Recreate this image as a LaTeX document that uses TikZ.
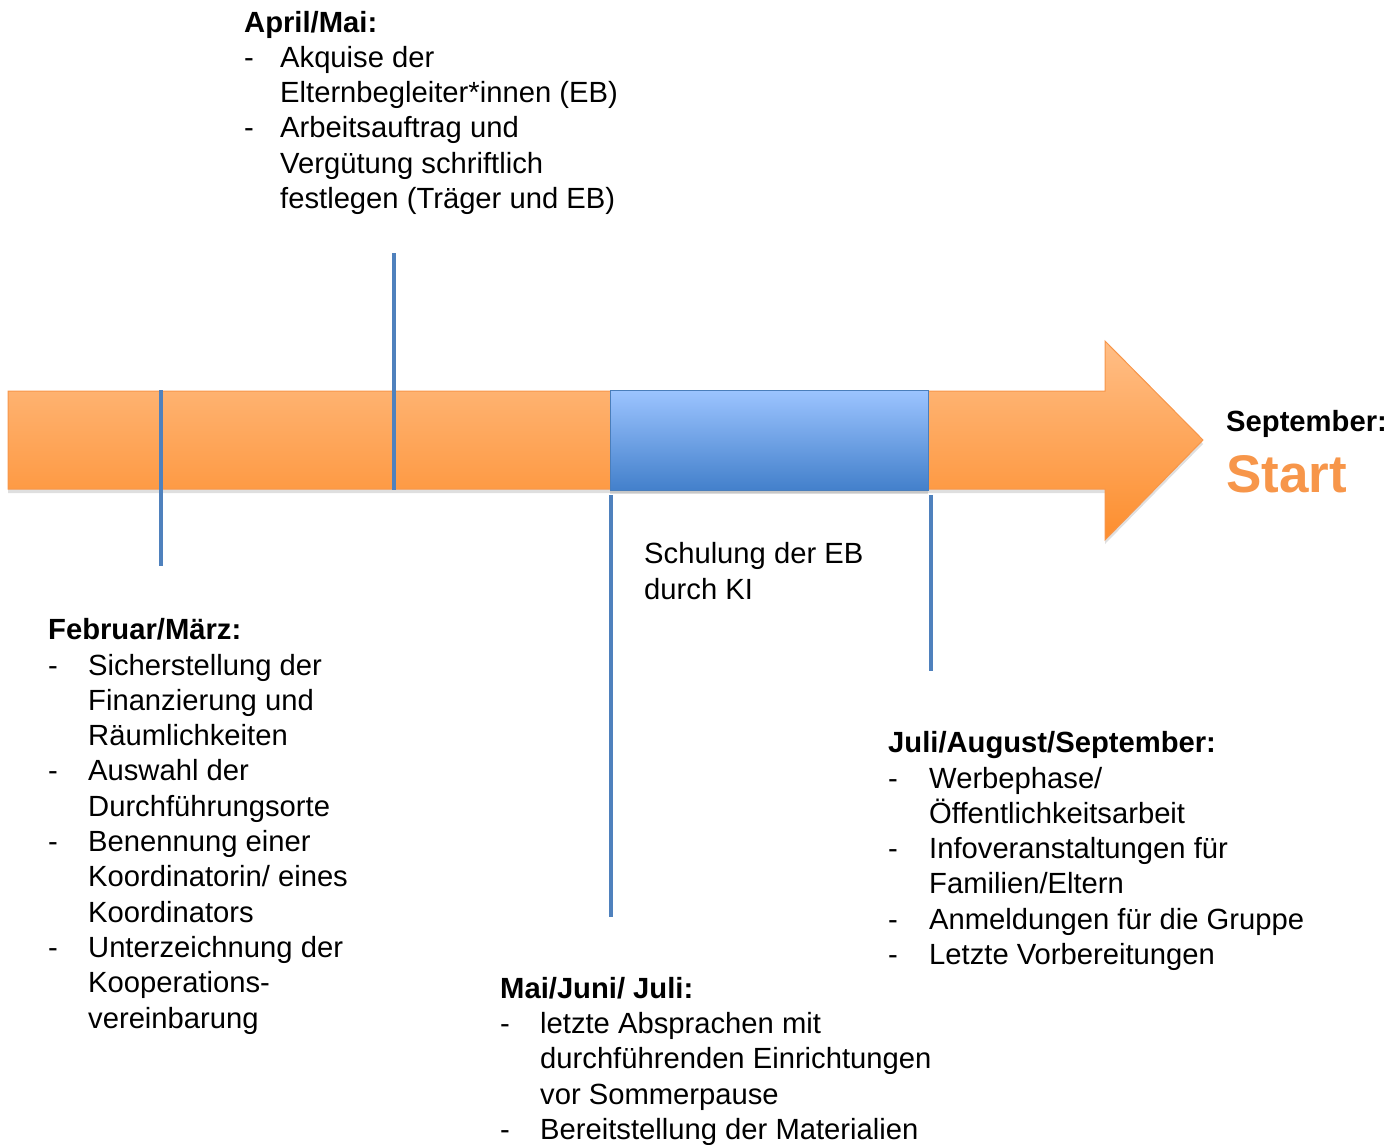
\documentclass[tikz,border=0pt]{standalone}
\usepackage{fontspec}
\setmainfont{Liberation Sans}
\usetikzlibrary{positioning,calc,shadows}
\definecolor{bartop}{HTML}{FFBE86}
\definecolor{barbottom}{HTML}{FD8E2E}
\definecolor{barline}{HTML}{F7964A}
\definecolor{schultop}{HTML}{9CC4FF}
\definecolor{schulbottom}{HTML}{4380CB}
\definecolor{schulline}{HTML}{4A7EBB}
\definecolor{tickblue}{HTML}{4F81BD}
\definecolor{startorange}{HTML}{F7964A}
\newcommand{\strich}[1][40pt]{\makebox[#1][l]{-}}
\newcommand{\einzug}[1][40pt]{\hspace*{#1}}
\tikzset{
    % timeline arrow
    zeitpfeil/.style={
           draw=barline, line width=1pt,
           top color=bartop, bottom color=barbottom,
           drop shadow={shadow xshift=0pt, shadow yshift=-4pt, opacity=0.25}},
    % training block
    schulung/.style={
           draw=schulline, line width=1pt,
           top color=schultop, bottom color=schulbottom,
           drop shadow={shadow xshift=0pt, shadow yshift=-4pt, opacity=0.25}},
    % marks on the time line
    marke/.style={
           draw=tickblue, line width=4pt},
    % text blocks (anchored at the baseline of the last line)
    phase/.style={
           anchor=base west, align=left, inner sep=0pt,
           font=\fontsize{29.2}{35.3}\selectfont}
}
\begin{document}
\begin{tikzpicture}[x=1pt, y=-1pt]
	\useasboundingbox (0,0) rectangle (1400,1144);

	% arrow and training block
	\path[zeitpfeil] (8,391) -- (1105,391) -- (1105,341) -- (1203,440)
	                 -- (1105,540) -- (1105,489) -- (8,489) -- cycle;
	\path[schulung] (610,390) rectangle (928,490);

	% marks
	\coordinate (febtop) at (161,390);
	\coordinate (febbot) at (161,566);
	\coordinate (aprtop) at (394,253);
	\coordinate (aprbot) at (394,490);
	\coordinate (maitop) at (611,495);
	\coordinate (maibot) at (611,917);
	\coordinate (julitop) at (931,495);
	\coordinate (julibot) at (931,671);
	\draw[marke] (febtop) -- (febbot);
	\draw[marke] (aprtop) -- (aprbot);
	\draw[marke] (maitop) -- (maibot);
	\draw[marke] (julitop) -- (julibot);

	% April/Mai
	\node[phase] (aprtext) at (244,208.5) {\textbf{April/Mai:}\\
	    \strich[36pt]Akquise der\\
	    \einzug[36pt]Elternbegleiter*innen (EB)\\
	    \strich[36pt]Arbeitsauftrag und\\
	    \einzug[36pt]Vergütung schriftlich\\
	    \einzug[36pt]festlegen (Träger und EB)};

	% Februar/Maerz
	\node[phase] (febtext) at (48,1028) {\textbf{Februar/März:}\\
	    \strich Sicherstellung der\\
	    \einzug Finanzierung und\\
	    \einzug Räumlichkeiten\\
	    \strich Auswahl der\\
	    \einzug Durchführungsorte\\
	    \strich Benennung einer\\
	    \einzug Koordinatorin/ eines\\
	    \einzug Koordinators\\
	    \strich Unterzeichnung der\\
	    \einzug Kooperations-\\
	    \einzug vereinbarung};

	% Schulung
	\node[phase] (schultext) at (644,599) {Schulung der EB\\durch KI};

	% Mai/Juni/Juli
	\node[phase] (maitext) at (500,1139.5) {\textbf{Mai/Juni/ Juli:}\\
	    \strich letzte Absprachen mit\\
	    \einzug durchführenden Einrichtungen\\
	    \einzug vor Sommerpause\\
	    \strich Bereitstellung der Materialien};

	% Juli/August/September
	\node[phase] (julitext) at (888,964.5) {\textbf{Juli/August/September:}\\
	    \strich[41pt]Werbephase/\\
	    \einzug[41pt]Öffentlichkeitsarbeit\\
	    \strich[41pt]Infoveranstaltungen für\\
	    \einzug[41pt]Familien/Eltern\\
	    \strich[41pt]Anmeldungen für die Gruppe\\
	    \strich[41pt]Letzte Vorbereitungen};

	% September: Start
	\node[phase] (septext) at (1226,431) {\textbf{September:}};
	\node[phase, font=\fontsize{53}{60}\selectfont\bfseries, text=startorange] (starttext) at (1226,492) {Start};

\end{tikzpicture}
\end{document}
